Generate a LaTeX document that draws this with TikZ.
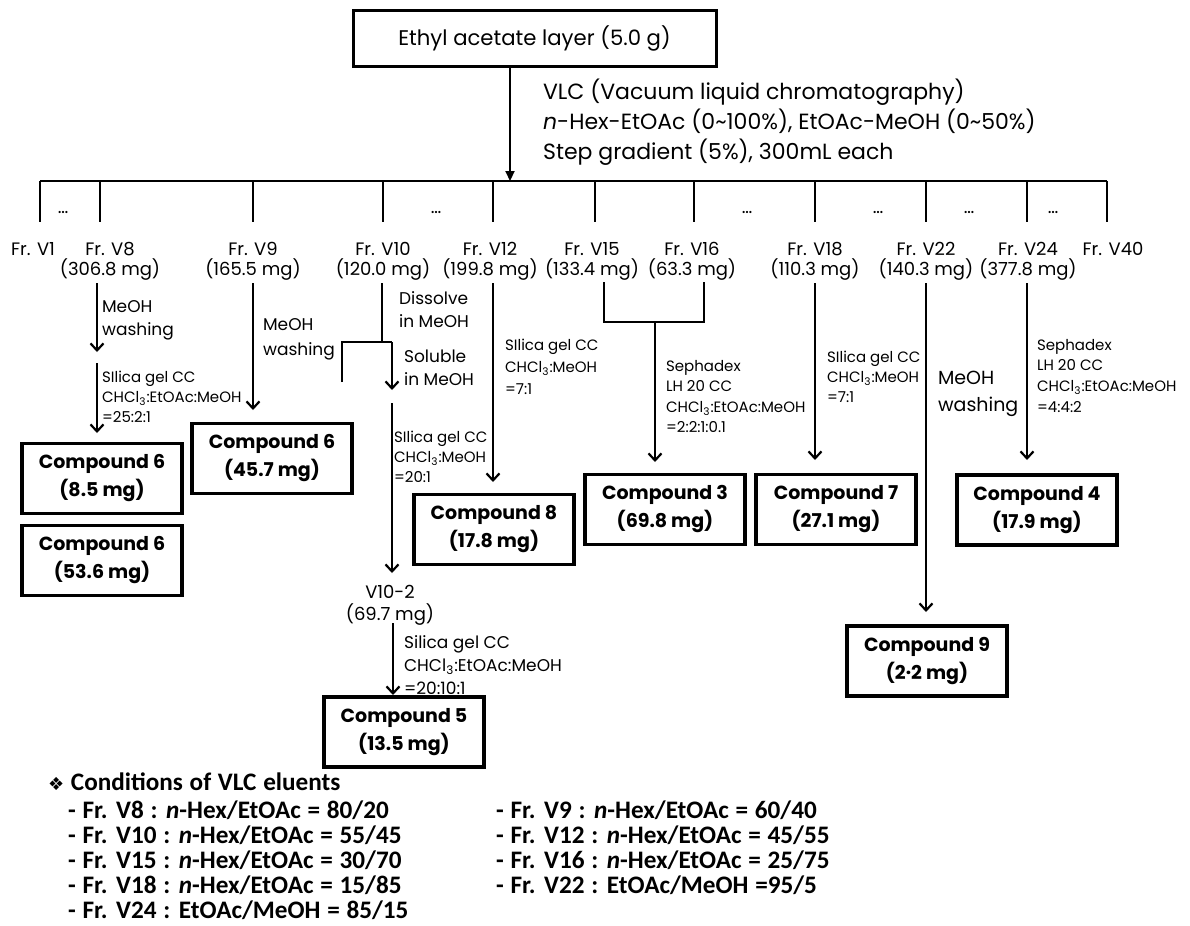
\documentclass[tikz,border=0pt]{standalone}
\usepackage{fontspec}
\setmainfont{Poppins}
\newfontfamily\condfont{Carlito}[WordSpace=1.18]
\newfontfamily\symfont{DejaVu Sans}
\usetikzlibrary{arrows.meta}

\begin{document}
\begin{tikzpicture}[x=0.5pt,y=-0.5pt,line width=1.1pt,
  >={Straight Barb[length=3.5pt,width=6.5pt]},
  fr/.style={anchor=north,inner sep=0pt,align=center,font=\fontsize{9}{10}\selectfont},
  dots/.style={inner sep=0pt,font=\fontsize{9}{10}\selectfont},
  note/.style={anchor=north west,inner sep=0pt,align=left,font=\fontsize{7.5}{10}\selectfont},
  wash/.style={anchor=north west,inner sep=0pt,align=left,font=\fontsize{8.5}{11.5}\selectfont},
  cpd/.style={draw,line width=1.6pt,minimum width=80pt,minimum height=35pt,inner sep=0pt,
    align=center,font=\bfseries\fontsize{9.5}{14}\selectfont},
  cond/.style={anchor=north west,inner sep=0pt,align=left,font=\condfont\bfseries\fontsize{12.6}{12.5}\selectfont}]
\useasboundingbox (0,0) rectangle (1190,926);

%% extract and VLC
\node[draw,line width=1.5pt,minimum width=181.5pt,minimum height=28pt,font=\fontsize{10.6}{12}\selectfont] (ea) at (534.5,38) {Ethyl acetate layer (5.0 g)};
\node[anchor=north west,inner sep=0pt,align=left,font=\fontsize{11}{15}\selectfont] (vlc) at (542,78)
  {VLC (Vacuum liquid chromatography)\\\textit{n}-Hex-EtOAc (0\textasciitilde100\%), EtOAc-MeOH (0\textasciitilde50\%)\\Step gradient (5\%), 300mL each};
\coordinate (split) at (510,181);
\draw[-{Triangle[length=5pt,width=4.5pt]}] (ea.south -| split) -- (split);
\coordinate (busL) at (40,181); \coordinate (busR) at (1107,181);
\draw (busL) -- (busR);
\foreach \n/\x in {1/40,8/100,9/253,10/383,12/493,15/595,16/694,18/815,22/926,24/1027,40/1107}
  {\coordinate (t\n) at (\x,181); \draw (t\n) -- ++(0,41);}

%% fractions
\node[dots] (d1) at (63,212) {\dots}; \node[dots] (d2) at (436,212) {\dots};
\node[dots] (d3) at (747,212) {\dots}; \node[dots] (d4) at (878,212) {\dots};
\node[dots] (d5) at (969,212) {\dots}; \node[dots] (d6) at (1053,212) {\dots};
\node[fr] (f1) at (33,241) {Fr. V1};
\node[fr] (f8) at (110,241) {Fr. V8\\(306.8 mg)};
\node[fr] (f9) at (253,241) {Fr. V9\\(165.5 mg)};
\node[fr] (f10) at (383,241) {Fr. V10\\(120.0 mg)};
\node[fr] (f12) at (490,241) {Fr. V12\\(199.8 mg)};
\node[fr] (f15) at (592,241) {Fr. V15\\(133.4 mg)};
\node[fr] (f16) at (692,241) {Fr. V16\\(63.3 mg)};
\node[fr] (f18) at (815,241) {Fr. V18\\(110.3 mg)};
\node[fr] (f22) at (926,241) {Fr. V22\\(140.3 mg)};
\node[fr] (f24) at (1028,241) {Fr. V24\\(377.8 mg)};
\node[fr] (f40) at (1113,241) {Fr. V40};

%% Fr. V8
\coordinate (a8) at (97,283); \coordinate (b8) at (97,352);
\coordinate (c8) at (97,363); \coordinate (e8) at (97,433);
\draw[->] (a8) -- (b8); \draw[->] (c8) -- (e8);
\node[wash] (w8) at (101,299) {MeOH\\washing};
\node[note] (n8) at (101,370) {SIlica gel CC\\CHCl\textsubscript{3}:EtOAc:MeOH\\=25:2:1};
\node[cpd] (cmp6a) at (102,478.5) {Compound 6\\(8.5 mg)};
\node[cpd] (cmp6c) at (102,560.5) {Compound 6\\(53.6 mg)};

%% Fr. V9
\coordinate (a9) at (253,283); \coordinate (e9) at (253,410);
\draw[->] (a9) -- (e9);
\node[wash,font=\fontsize{8.5}{12.5}\selectfont] (w9) at (262,317) {MeOH\\washing};
\node[cpd] (cmp6b) at (272,458.5) {Compound 6\\(45.7 mg)};

%% Fr. V10
\coordinate (a10) at (382,283); \coordinate (k10) at (382,342);
\coordinate (kl) at (342,342); \coordinate (kr) at (392,342);
\coordinate (kld) at (342,382); \coordinate (krd) at (392,390);
\draw (a10) -- (k10); \draw (kld) -- (kl) -- (kr);
\draw[->] (kr) -- (krd);
\node[wash] (w10a) at (398,290) {Dissolve\\in MeOH};
\node[wash] (w10b) at (403,349) {Soluble\\in MeOH};
\coordinate (a102) at (392,403); \coordinate (e102) at (392,573);
\draw[->] (a102) -- (e102);
\node[note] (n10) at (393,430) {SIlica gel CC\\CHCl\textsubscript{3}:MeOH\\=20:1};
\node[fr,font=\fontsize{9}{11}\selectfont] (v102) at (390,584) {V10-2\\(69.7 mg)};
\coordinate (a5) at (393,623); \coordinate (e5) at (393,695);
\draw[->] (a5) -- (e5);
\node[note,font=\fontsize{8.5}{11.5}\selectfont] (n102) at (403,634) {Silica gel CC\\CHCl\textsubscript{3}:EtOAc:MeOH\\=20:10:1};
\node[cpd] (cmp5) at (404,732) {Compound 5\\(13.5 mg)};

%% Fr. V12
\coordinate (a12) at (493,283); \coordinate (e12) at (493,482);
\draw[->] (a12) -- (e12);
\node[note,font=\fontsize{7.5}{11}\selectfont] (n12) at (504,338) {SIlica gel CC\\CHCl\textsubscript{3}:MeOH\\=7:1};
\node[cpd] (cmp8) at (494,529.5) {Compound 8\\(17.8 mg)};

%% Fr. V15 + V16
\coordinate (b15) at (604,282); \coordinate (b15d) at (604,322);
\coordinate (b16) at (704,282); \coordinate (b16d) at (704,322);
\draw (b15) -- (b15d) -- (b16d) -- (b16);
\coordinate (m16) at (655,322); \coordinate (e16) at (655,462);
\draw[->] (m16) -- (e16);
\node[note,font=\fontsize{7.5}{10.25}\selectfont] (n16) at (665,359) {Sephadex\\LH 20 CC\\CHCl\textsubscript{3}:EtOAc:MeOH\\=2:2:1:0.1};
\node[cpd] (cmp3) at (665,509.5) {Compound 3\\(69.8 mg)};

%% Fr. V18
\coordinate (a18) at (815,283); \coordinate (e18) at (815,460);
\draw[->] (a18) -- (e18);
\node[note] (n18) at (826,350) {SIlica gel CC\\CHCl\textsubscript{3}:MeOH\\=7:1};
\node[cpd] (cmp7) at (836,509.5) {Compound 7\\(27.1 mg)};

%% Fr. V22
\coordinate (a22) at (926,283); \coordinate (e22) at (926,612);
\draw[->] (a22) -- (e22);
\node[wash,font=\fontsize{9.5}{13.5}\selectfont] (w22) at (937,370) {MeOH\\washing};
\node[cpd] (cmp9) at (927,661) {Compound 9\\(2\raisebox{0.5ex}{.}2 mg)};

%% Fr. V24
\coordinate (a24) at (1027,283); \coordinate (e24) at (1027,460);
\draw[->] (a24) -- (e24);
\node[note,font=\fontsize{7.5}{10.3}\selectfont] (n24) at (1036,338) {Sephadex\\LH 20 CC\\CHCl\textsubscript{3}:EtOAc:MeOH\\=4:4:2};
\node[cpd] (cmp4) at (1037,510) {Compound 4\\(17.9 mg)};

%% eluent conditions
\node[cond,anchor=west] (condh) at (47,782) {{\symfont\fontsize{9}{10}\selectfont ❖} Conditions of VLC eluents};
\node[cond] (condl) at (67,800) {- Fr. V8 : \textit{n}-Hex/EtOAc = 80/20\\- Fr. V10 : \textit{n}-Hex/EtOAc = 55/45\\- Fr. V15 : \textit{n}-Hex/EtOAc = 30/70\\- Fr. V18 : \textit{n}-Hex/EtOAc = 15/85\\- Fr. V24 : EtOAc/MeOH = 85/15};
\node[cond] (condr) at (495,800) {- Fr. V9 : \textit{n}-Hex/EtOAc = 60/40\\- Fr. V12 : \textit{n}-Hex/EtOAc = 45/55\\- Fr. V16 : \textit{n}-Hex/EtOAc = 25/75\\- Fr. V22 : EtOAc/MeOH =95/5};
\end{tikzpicture}
\end{document}
